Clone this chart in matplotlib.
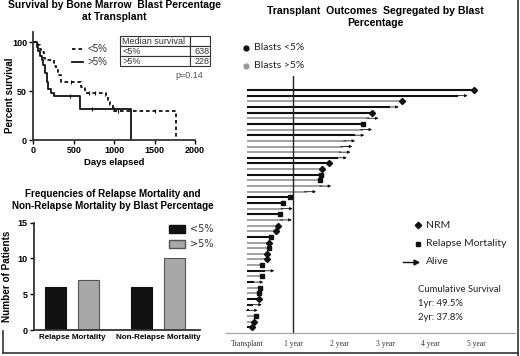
import matplotlib.pyplot as plt
from matplotlib.lines import Line2D

# ---- data ----
# Kaplan-Meier steps (days, percent survival after step)
km_lt5_days = [0, 55, 80, 100, 130, 150, 260, 280, 310, 340, 590, 640, 900, 930, 950, 980, 1000, 1760, 1760]
km_lt5_surv = [100, 97, 93, 90, 84, 82, 76, 72, 66, 59, 54, 48, 45, 40, 36, 31, 30, 30, 0]
km_gt5_days = [0, 40, 60, 85, 105, 125, 145, 165, 180, 215, 260, 580, 1210, 1210]
km_gt5_surv = [100, 95, 91, 86, 82, 77, 68, 59, 52, 48, 44.5, 32, 32, 0]
cens_lt5_days = [470, 690, 760, 1050, 1500]
cens_lt5_surv = [59, 48, 48, 30, 30]
cens_gt5_days = [450, 730, 1000]
cens_gt5_surv = [44.5, 32, 32]

median_rows = [["Median survival", ""], ["<5%", "638"], [">5%", "228"]]

bar_groups = ["Relapse Mortality", "Non-Relapse Mortality"]
bar_lt5 = [6, 6]
bar_gt5 = [7, 10]

# swimmer plot: years after transplant, blast group, outcome
swim_end = [4.93, 4.80, 3.38, 3.30, 2.72, 2.86, 2.53, 2.72, 2.55, 2.35, 2.29, 2.25, 2.17,
            1.78, 1.64, 1.61, 1.59, 1.83, 1.50, 0.94, 0.79, 0.99, 0.72, 0.97, 0.68, 0.63,
            0.52, 0.48, 0.47, 0.44, 0.43, 0.33, 0.59, 0.32, 0.35, 0.28, 0.26, 0.26, 0.32,
            0.23, 0.20, 0.15, 0.11]
swim_group = ["<5", "<5", ">5", "<5", "<5", ">5", "<5", ">5", "<5", ">5", ">5", ">5", "<5",
              "<5", ">5", "<5", ">5", ">5", ">5", "<5", "<5", ">5", "<5", ">5", ">5", ">5",
              "<5", ">5", ">5", ">5", ">5", ">5", "<5", ">5", "<5", ">5", ">5", "<5", "<5",
              "<5", ">5", ">5", "<5"]
swim_outcome = ["NRM", "Alive", "NRM", "Alive", "NRM", "Alive", "Relapse", "Alive", "Alive",
                "Alive", "Alive", "Alive", "Alive", "NRM", "NRM", "Relapse", "Relapse", "Alive",
                "Alive", "Relapse", "Relapse", "Alive", "Relapse", "Alive", "NRM", "NRM",
                "Relapse", "NRM", "Relapse", "NRM", "NRM", "Relapse", "Alive", "Relapse",
                "Alive", "Relapse", "Relapse", "NRM", "Alive", "Alive", "Relapse", "NRM", "NRM"]
year_ticks = [0, 1, 2, 3, 4, 5]
year_labels = ["Transplant", "1 year", "2 year", "3 year", "4 year", "5 year"]

W, H = 520, 356
BLACK = "#111111"
GRAY = "#9a9a9a"


def box(l, t, r, b):
    return [l / W, 1 - b / H, (r - l) / W, (b - t) / H]


fig = plt.figure(figsize=(W / 100, H / 100), dpi=100)
bold = dict(family="Liberation Sans", weight="bold")

# ---- panel A: survival curves ----
ax1 = fig.add_axes(box(33.3, 32.3, 195, 140))
ax1.step(km_lt5_days, km_lt5_surv, where="post", color=BLACK, lw=1.3, ls=(0, (2, 1.6)))
ax1.step(km_gt5_days, km_gt5_surv, where="post", color=BLACK, lw=1.3)
ax1.plot(cens_lt5_days, cens_lt5_surv, ls="none", marker="|", ms=3, color=BLACK, mew=0.8)
ax1.plot(cens_gt5_days, cens_gt5_surv, ls="none", marker="|", ms=3, color=BLACK, mew=0.8)
ax1.set_xlim(0, 2000)
ax1.set_ylim(0, 110)
ax1.set_xticks([0, 500, 1000, 1500, 2000])
ax1.set_yticks([0, 50, 100])
for s in ["top", "right"]:
    ax1.spines[s].set_visible(False)
for s in ["left", "bottom"]:
    ax1.spines[s].set_linewidth(1.3)
    ax1.spines[s].set_color("#333333")
ax1.tick_params(length=3, width=1, pad=1.5, labelsize=6.5)
for lab in ax1.get_xticklabels() + ax1.get_yticklabels():
    lab.set_fontweight("bold")
    lab.set_family("Liberation Sans")
ax1.set_xlabel("Days elapsed", fontsize=6.8, labelpad=2, **bold)
ax1.set_ylabel("Percent survival", fontsize=7.0, **bold)
ax1.yaxis.set_label_coords(-0.115, 0.42)
fig.text(114 / W, 1 - 11 / H, "Survival by Bone Marrow  Blast Percentage\nat Transplant",
         ha="center", va="center", fontsize=7.4, linespacing=1.15, **bold)

# legend of curves
fig.add_artist(Line2D([72 / W, 83 / W], [1 - 49 / H] * 2, color=BLACK, lw=1.3, ls=(0, (2, 1.6))))
fig.add_artist(Line2D([72 / W, 83 / W], [1 - 62 / H] * 2, color=BLACK, lw=1.3))
fig.text(88 / W, 1 - 49 / H, "<5%", fontsize=7, va="center", color="#333333", family="Liberation Sans")
fig.text(88 / W, 1 - 62 / H, ">5%", fontsize=7, va="center", color="#333333", family="Liberation Sans")

# median survival table
tab = fig.add_axes(box(120, 36, 210, 66))
tab.axis("off")
t = tab.table(cellText=median_rows, colWidths=[70 / 90, 20 / 90], loc="center",
              bbox=[0, 0, 1, 1], cellLoc="left")
t.auto_set_font_size(False)
for (r, c), cell in t.get_celld().items():
    cell.set_linewidth(0.8)
    cell.set_edgecolor("#333333")
    cell.get_text().set_fontsize(6.5)
    cell.get_text().set_family("Liberation Sans")
    cell.get_text().set_color("#333333")
    cell.PAD = 0.03
    if c == 1:
        cell.get_text().set_ha("right")
        cell._loc = "right"
fig.text(203 / W, 1 - 76 / H, "p=0.14", fontsize=6.5, ha="right", va="center",
         color="#555555", family="Liberation Sans")

# ---- panel B: bar chart ----
ax2 = fig.add_axes(box(34, 222.7, 200, 330))
xs = [0, 1]
ax2.bar([x - 0.19 for x in xs], bar_lt5, width=0.245, color=BLACK, edgecolor=BLACK, lw=0.8)
ax2.bar([x + 0.19 for x in xs], bar_gt5, width=0.245, color="#a8a8a8", edgecolor="#555555", lw=0.8)
ax2.set_xlim(-0.44, 1.49)
ax2.set_ylim(0, 15)
ax2.set_yticks([0, 5, 10, 15])
ax2.set_xticks(xs)
ax2.set_xticklabels(bar_groups)
for s in ["top", "right"]:
    ax2.spines[s].set_visible(False)
for s in ["left", "bottom"]:
    ax2.spines[s].set_linewidth(1.3)
    ax2.spines[s].set_color("#333333")
ax2.tick_params(axis="y", length=3, width=1, pad=1.5, labelsize=6.5)
ax2.tick_params(axis="x", length=0, pad=3, labelsize=5.8)
for lab in ax2.get_xticklabels() + ax2.get_yticklabels():
    lab.set_fontweight("bold")
    lab.set_family("Liberation Sans")
ax2.set_ylabel("Number of Patients", fontsize=7.2, labelpad=4, **bold)
fig.text(113 / W, 1 - 200 / H,
         "Frequencies of Relapse Mortality and\nNon-Relapse Mortality by Blast Percentage",
         ha="center", va="center", fontsize=7.1, linespacing=1.2, **bold)
ax2.legend(handles=[plt.Rectangle((0, 0), 1, 1, fc=BLACK, ec=BLACK),
                    plt.Rectangle((0, 0), 1, 1, fc="#a8a8a8", ec="#555555")],
           labels=["<5%", ">5%"], loc="upper left", bbox_to_anchor=(0.76, 1.07),
           frameon=False, fontsize=7, handlelength=1.7, handleheight=0.9,
           handletextpad=0.5, labelspacing=0.55, labelcolor="#333333")

# ---- panel C: swimmer plot ----
ax3 = fig.add_axes(box(226, 76, 515, 332.7))
n = len(swim_end)
rows = list(range(n))
for i in rows:
    col = BLACK if swim_group[i] == "<5" else GRAY
    lw = 1.5 if swim_group[i] == "<5" else 1.3
    end = swim_end[i]
    if swim_outcome[i] == "Alive":
        ax3.plot([0, end - 0.2], [i, i], color=col, lw=lw, solid_capstyle="butt")
        ax3.annotate("", xy=(end, i), xytext=(end - 0.25, i),
                     arrowprops=dict(arrowstyle="-|>", color=BLACK, lw=0.6,
                                     mutation_scale=4, shrinkA=0, shrinkB=0))
    else:
        ax3.plot([0, end], [i, i], color=col, lw=lw, solid_capstyle="butt")
        mk = "D" if swim_outcome[i] == "NRM" else "s"
        ms = 3.1 if mk == "D" else 2.8
        ax3.plot([end], [i], marker=mk, ms=ms, color=BLACK, ls="none")
ax3.axvline(1, color="#222222", lw=1)
ax3.set_xlim(-0.46, 5.83)
ax3.set_ylim(42.96, -2.48)
ax3.set_yticks([])
ax3.set_xticks(year_ticks)
ax3.set_xticklabels(year_labels, family="Liberation Serif", fontsize=5.5, color="#333333")
ax3.tick_params(axis="x", length=0, pad=5)
for s in ["top", "right", "left"]:
    ax3.spines[s].set_visible(False)
ax3.spines["bottom"].set_color("#aaaaaa")
ax3.spines["bottom"].set_linewidth(1)

fig.text(375 / W, 1 - 17 / H, "Transplant  Outcomes  Segregated by Blast\nPercentage",
         ha="center", va="center", fontsize=7.6, linespacing=1.15, **bold)

cal = dict(family="Lato", fontsize=7.5, color="#222222", va="center")
fig.add_artist(Line2D([246 / W], [1 - 48 / H], marker="o", ms=3.5, color=BLACK, ls="none"))
fig.add_artist(Line2D([246 / W], [1 - 66 / H], marker="o", ms=3.5, color=GRAY, ls="none"))
fig.text(254 / W, 1 - 48 / H, "Blasts <5%", **cal)
fig.text(254 / W, 1 - 66 / H, "Blasts >5%", **cal)

fig.add_artist(Line2D([418 / W], [1 - 225 / H], marker="D", ms=3.3, color=BLACK, ls="none"))
fig.add_artist(Line2D([418 / W], [1 - 244 / H], marker="s", ms=3.0, color=BLACK, ls="none"))
fig.add_artist(Line2D([403 / W, 414 / W], [1 - 262 / H] * 2, color=BLACK, lw=1))
fig.add_artist(Line2D([416 / W], [1 - 262 / H], marker=">", ms=3.5, color=BLACK, ls="none"))
fig.text(426 / W, 1 - 225 / H, "NRM", **cal)
fig.text(426 / W, 1 - 244 / H, "Relapse Mortality", **cal)
fig.text(426 / W, 1 - 262 / H, "Alive", **cal)
fig.text(418 / W, 1 - 290 / H, "Cumulative Survival", **dict(cal, fontsize=6.8))
fig.text(418 / W, 1 - 304 / H, "1yr: 49.5%", **dict(cal, fontsize=6.8))
fig.text(418 / W, 1 - 317 / H, "2yr: 37.8%", **dict(cal, fontsize=6.8))

# frame lines
fig.add_artist(Line2D([3 / W, 518 / W], [1 - 353 / H] * 2, color="#333333", lw=1.2))
fig.add_artist(Line2D([518 / W] * 2, [0, 1 - 353 / H + 1], color="#333333", lw=1.2))
fig.add_artist(Line2D([3 / W] * 2, [1 - 331 / H, 1 - 353 / H], color="#333333", lw=1.2))

fig.savefig("out.png", dpi=100)
